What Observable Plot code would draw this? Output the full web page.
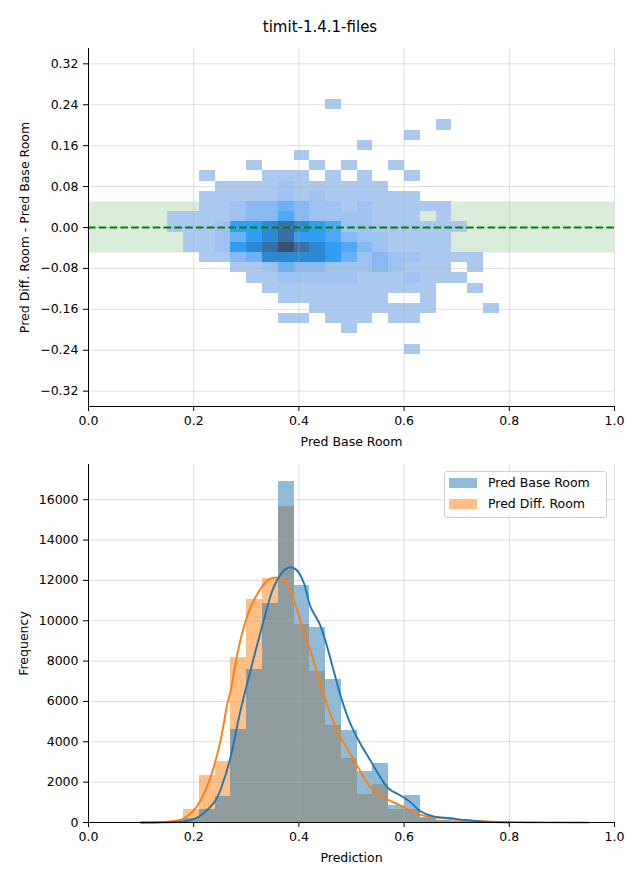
<!DOCTYPE html>
<html><head><meta charset="utf-8">
<script src="https://cdn.jsdelivr.net/npm/d3@7"></script>
<script src="https://cdn.jsdelivr.net/npm/@observablehq/plot@0.6"></script>
<style>
body{margin:0;background:#fff;font-family:"DejaVu Sans",sans-serif;}
#wrap{position:relative;width:640px;height:880px;overflow:hidden;}
#top{position:absolute;left:0;top:0;}
#bottom{position:absolute;left:0;top:450px;}
#title{position:absolute;left:0;top:20px;width:640px;text-align:center;font-size:15px;line-height:15px;color:#000;}
#legend{position:absolute;left:444px;top:471px;width:161px;height:45px;border:1px solid #cfcfcf;border-radius:3px;background:rgba(255,255,255,0.8);}
.sw{position:absolute;left:4px;width:28px;height:10px;}
.lt{position:absolute;left:43px;font-size:12.5px;line-height:14px;white-space:nowrap;color:#000;}
</style></head>
<body><div id="wrap"><div id="top"></div><div id="bottom"></div><div id="title"></div><div id="legend"></div></div>
<script>
// ---------- data ----------
const chartTitle = "timit-1.4.1-files";
const seriesNames = ["Pred Base Room", "Pred Diff. Room"];
const seriesColors = ["#1f77b4", "#ff7f0e"];

// shared x bin edges (Prediction)
const xEdges = [0.1508,0.1808,0.2108,0.2408,0.2708,0.3008,0.3308,0.3608,0.3908,0.4208,0.4508,0.4808,0.5108,0.5408,0.5708,0.6008,0.6308,0.6608,0.6908,0.7208,0.7508,0.7808,0.8108,0.8408,0.8708,0.9008,0.9308];
// y bin edges (difference)
const yEdges = [-0.248,-0.2281,-0.2081,-0.1882,-0.1683,-0.1484,-0.1285,-0.1086,-0.0886,-0.0687,-0.0488,-0.0289,-0.0090,0.0110,0.0309,0.0508,0.0707,0.0906,0.1106,0.1305,0.1504,0.1703,0.1902,0.2102,0.2301,0.2500];
// 2D histogram intensity levels (0 = empty), rows from top (highest y bin) to bottom, columns = x bins
const heatRows = [
"000000000010000000000",
"000000000000000000000",
"000000000000000001000",
"000000000000000100000",
"000000000000100000000",
"000000001000000000000",
"000001000101001000000",
"001000111010100100000",
"000111121111110000000",
"001111121211111100000",
"001123343221211111000",
"111123353222211101000",
"111266787652211111100",
"011246786653221111000",
"011267898765321111000",
"001134777764232211110",
"000011243322232111010",
"000001122222111211100",
"000000111111111110010",
"000000011111110010000",
"000000000111111110001",
"000000011011101100000",
"000000000001000000000",
"000000000000000000000",
"000000000000000100000"
];
const levelColors = ["#abc9ee","#9ec3f0","#88b9f2","#6cb0f5","#4ea8f6","#2f9ef3","#2d88d4","#396fa5","#3d5070"];
const tolerance = [-0.05, 0.05];
const refLine = [0];

// histogram counts per x bin
const countsBase = [30,180,640,1300,4600,7600,10850,16900,11750,9650,7100,4550,2550,2920,840,1340,260,120,60,20,10];
const countsDiff = [20,630,2330,3000,8200,11050,12080,15650,9800,7480,4800,3170,1400,1880,640,620,220,120,80,50,30,20,10,10,5,0];

// KDE curves (x, frequency)
const kdeBaseX = [0.10,0.14,0.17,0.181,0.20,0.213,0.2414,0.257,0.270,0.289,0.308,0.333,0.352,0.371,0.384,0.397,0.409,0.422,0.441,0.454,0.466,0.482,0.498,0.517,0.536,0.555,0.571,0.593,0.612,0.631,0.656,0.688,0.72,0.76,0.80];
const kdeBaseY = [0,10,40,65,170,350,1090,2080,3230,5550,7530,10000,11650,12480,12650,12480,11900,10700,9750,8680,7530,6040,4890,3900,3070,2240,1670,1340,1010,560,300,210,110,30,0];
const kdeDiffX = [0.10,0.14,0.17,0.181,0.20,0.213,0.232,0.251,0.264,0.270,0.283,0.295,0.308,0.321,0.340,0.356,0.371,0.384,0.397,0.409,0.422,0.441,0.460,0.479,0.498,0.514,0.536,0.561,0.593,0.625,0.656,0.688,0.72,0.76,0.80,0.85,0.90,0.95];
const kdeDiffY = [0,20,100,200,600,1090,2240,4060,5900,6500,8360,9670,10660,11330,11990,12150,11990,11490,10500,9510,8520,6870,5380,4230,3400,2660,1750,1250,840,430,260,180,100,50,25,10,5,0];

// axes
const xDomain = [0, 1];
const xTicks = [0, 0.2, 0.4, 0.6, 0.8, 1.0];
const yDomainTop = [-0.35, 0.35];
const yTicksTop = [-0.32,-0.24,-0.16,-0.08,0,0.08,0.16,0.24,0.32];
const yDomainBottom = [0, 17745];
const yTicksBottom = [0,2000,4000,6000,8000,10000,12000,14000,16000];
const labels = {topX: "Pred Base Room", topY: "Pred Diff. Room - Pred Base Room", botX: "Prediction", botY: "Frequency"};

// ---------- build ----------
const cells = [];
heatRows.forEach((row, r) => {
  const j = heatRows.length - 1 - r;
  for (let k = 0; k < row.length; k++) {
    const lv = +row[k];
    if (lv > 0) cells.push({x1: xEdges[k], x2: xEdges[k+1], y1: yEdges[j], y2: yEdges[j+1], level: lv});
  }
});
const histBase = countsBase.map((c, k) => ({x1: xEdges[k], x2: xEdges[k+1], y: c}));
const histDiff = countsDiff.map((c, k) => ({x1: xEdges[k], x2: xEdges[k+1], y: c}));
const kdeBase = kdeBaseX.map((x, i) => ({x, y: kdeBaseY[i]}));
const kdeDiff = kdeDiffX.map((x, i) => ({x, y: kdeDiffY[i]}));

const style = {fontFamily: "'DejaVu Sans', sans-serif", fontSize: "12.5px", color: "#000", background: "transparent", overflow: "visible"};
const gridStyle = {stroke: "#b0b0b0", strokeOpacity: 0.45, strokeWidth: 0.9};

const topPlot = Plot.plot({
  width: 640, height: 450,
  marginLeft: 88, marginRight: 26, marginTop: 48, marginBottom: 44,
  style,
  x: {domain: xDomain},
  y: {domain: yDomainTop},
  color: {type: "ordinal", domain: [1,2,3,4,5,6,7,8,9], range: levelColors},
  marks: [
    Plot.rect([tolerance], {x1: () => xDomain[0], x2: () => xDomain[1], y1: d => d[0], y2: d => d[1], fill: "green", fillOpacity: 0.15}),
    Plot.rect(cells, {x1: "x1", x2: "x2", y1: "y1", y2: "y2", fill: "level", shapeRendering: "crispEdges"}),
    Plot.gridX(xTicks, gridStyle),
    Plot.gridY(yTicksTop, gridStyle),
    Plot.ruleY(refLine, {stroke: "green", strokeWidth: 2, strokeDasharray: "7.5,3.3"}),
    Plot.ruleX([xDomain[0]], {stroke: "#000", strokeWidth: 1}),
    Plot.ruleY([yDomainTop[0]], {stroke: "#000", strokeWidth: 1}),
    Plot.axisX({ticks: xTicks, tickFormat: d3.format(".1f"), tickSize: 5, tickPadding: 5, label: null}),
    Plot.axisY({ticks: yTicksTop, tickFormat: d3.format(".2f"), tickSize: 5, tickPadding: 5, label: null}),
    Plot.text([labels.topX], {frameAnchor: "bottom", dy: 39, text: d => d, fill: "#000", textAnchor: "middle"}),
    Plot.text([labels.topY], {frameAnchor: "left", dx: -64, rotate: -90, text: d => d, fill: "#000", textAnchor: "middle"})
  ]
});
document.getElementById("top").appendChild(topPlot);

const bottomPlot = Plot.plot({
  width: 640, height: 430,
  marginLeft: 88, marginRight: 26, marginTop: 14, marginBottom: 58,
  style,
  x: {domain: xDomain},
  y: {domain: yDomainBottom},
  marks: [
    Plot.rectY(histDiff, {x1: "x1", x2: "x2", y: "y", fill: seriesColors[1], fillOpacity: 0.5, shapeRendering: "crispEdges"}),
    Plot.rectY(histBase, {x1: "x1", x2: "x2", y: "y", fill: seriesColors[0], fillOpacity: 0.5, shapeRendering: "crispEdges"}),
    Plot.gridX(xTicks, gridStyle),
    Plot.gridY(yTicksBottom, gridStyle),
    Plot.line(kdeDiff, {x: "x", y: "y", stroke: seriesColors[1], strokeWidth: 1.9, curve: "catmull-rom"}),
    Plot.line(kdeBase, {x: "x", y: "y", stroke: seriesColors[0], strokeWidth: 1.9, curve: "catmull-rom"}),
    Plot.ruleX([xDomain[0]], {stroke: "#000", strokeWidth: 1}),
    Plot.ruleY([yDomainBottom[0]], {stroke: "#000", strokeWidth: 1}),
    Plot.axisX({ticks: xTicks, tickFormat: d3.format(".1f"), tickSize: 5, tickPadding: 5, label: null}),
    Plot.axisY({ticks: yTicksBottom, tickFormat: d3.format("d"), tickSize: 5, tickPadding: 5, label: null}),
    Plot.text([labels.botX], {frameAnchor: "bottom", dy: 39, text: d => d, fill: "#000", textAnchor: "middle"}),
    Plot.text([labels.botY], {frameAnchor: "left", dx: -65, rotate: -90, text: d => d, fill: "#000", textAnchor: "middle"})
  ]
});
document.getElementById("bottom").appendChild(bottomPlot);

document.getElementById("title").textContent = chartTitle;

const legend = document.getElementById("legend");
seriesNames.forEach((name, i) => {
  const sw = document.createElement("div");
  sw.className = "sw";
  sw.style.top = (6 + i * 20.5) + "px";
  sw.style.background = seriesColors[i];
  sw.style.opacity = 0.5;
  legend.appendChild(sw);
  const t = document.createElement("div");
  t.className = "lt";
  t.style.top = (4 + i * 20.5) + "px";
  t.textContent = name;
  legend.appendChild(t);
});
</script>
</body></html>
